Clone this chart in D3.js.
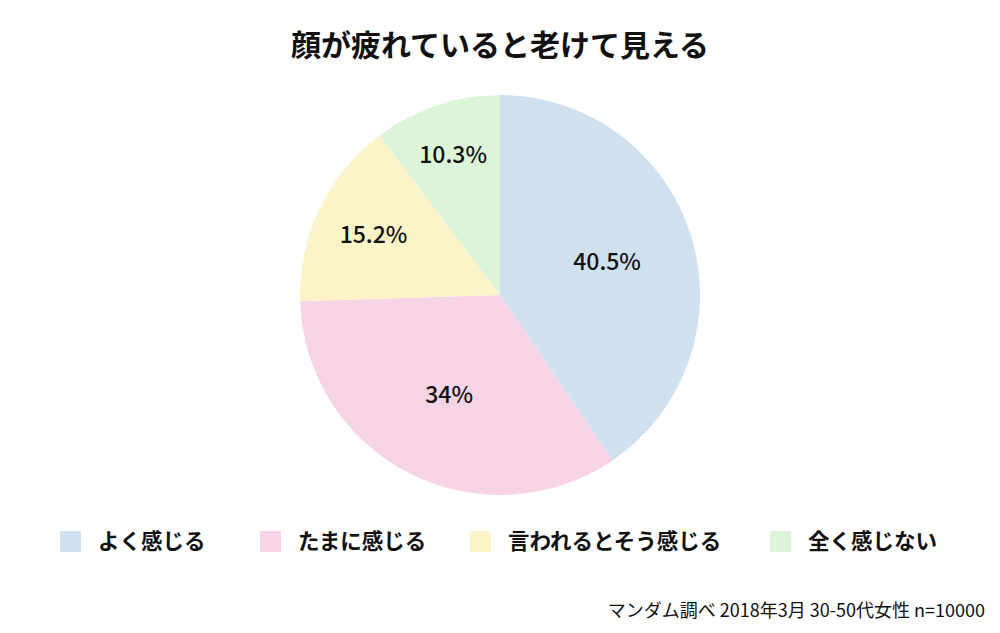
<!DOCTYPE html>
<html><head><meta charset="utf-8">
<script src="https://cdn.jsdelivr.net/npm/d3@7"></script>
<style>body{margin:0;background:#fff}</style></head>
<body><svg id="c" width="1000" height="633"></svg>
<script>
const categories = ["よく感じる","たまに感じる","言われるとそう感じる","全く感じない"];
const values = [40.5, 34, 15.2, 10.3];
const labels = ["40.5%","34%","15.2%","10.3%"];
const colors = ["#cfe0ee","#f7d3e6","#fdf3c8","#dcf5d9"];
const font = "'Noto Sans CJK JP','Noto Sans',sans-serif";
const svg = d3.select("#c");
svg.append("text").attr("x",500).attr("y",56).attr("text-anchor","middle")
  .attr("font-family",font).attr("font-size",30).attr("font-weight","bold").attr("fill","#111")
  .text("顔が疲れていると老けて見える");
const cx=500, cy=295, r=200;
const pie = d3.pie().sort(null).value(d=>d)(values);
const arc = d3.arc().innerRadius(0).outerRadius(r);
const g = svg.append("g").attr("transform",`translate(${cx},${cy})`);
g.selectAll("path").data(pie).join("path").attr("d",arc).attr("fill",(d,i)=>colors[i]);
const lr = d3.scaleLinear().domain([10,34]).range([148,112]).clamp(true);
g.selectAll("text").data(pie).join("text")
  .attr("transform",d=>`translate(${d3.arc().innerRadius(lr(d.value)).outerRadius(lr(d.value)).centroid(d)})`)
  .attr("text-anchor","middle").attr("dy","0.35em")
  .attr("font-family",font).attr("font-size",23).attr("font-weight",500).attr("fill","#111")
  .text((d,i)=>labels[i]);
const lx=[60,260,470,770];
const lg = svg.append("g");
categories.forEach((c,i)=>{
  lg.append("rect").attr("x",lx[i]).attr("y",531).attr("width",21).attr("height",21).attr("fill",colors[i]);
  lg.append("text").attr("x",lx[i]+38).attr("y",549).attr("font-family",font).attr("font-size",21.5)
    .attr("font-weight","bold").attr("fill","#111").text(c);
});
svg.append("text").attr("x",985).attr("y",617).attr("text-anchor","end").attr("font-family",font)
  .attr("font-size",18).attr("fill","#111").text("マンダム調べ 2018年3月 30-50代女性 n=10000");
</script></body></html>
